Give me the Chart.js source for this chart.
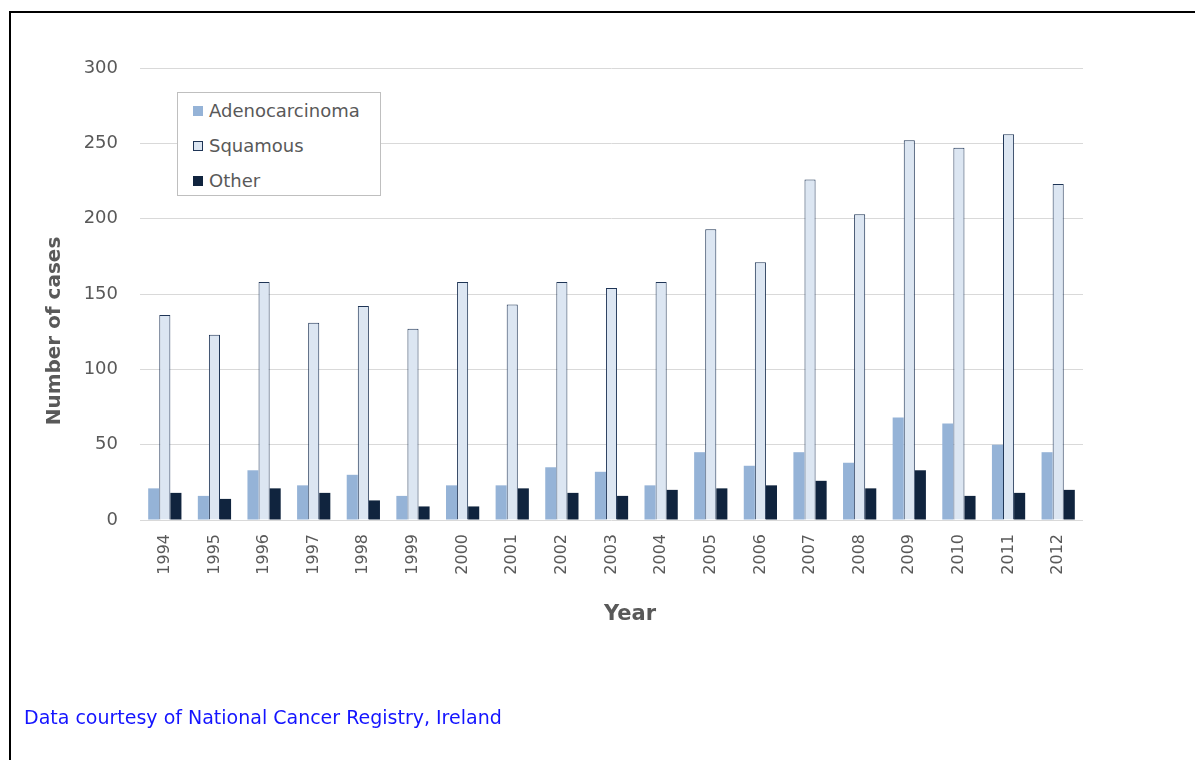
<!DOCTYPE html>
<html>
<head>
<meta charset="utf-8">
<script src="https://cdn.jsdelivr.net/npm/chart.js@4.4.1/dist/chart.umd.min.js"></script>
<style>
  html, body { margin: 0; padding: 0; background: #fff; overflow: hidden; }
  #wrap { position: relative; width: 1195px; height: 760px; }
  #frame { position: absolute; left: 9px; top: 11px; width: 1200px; height: 800px; border: 2px solid #000; box-sizing: border-box; }
  #chart { position: absolute; left: 0; top: 0; }
  #legend {
    position: absolute; left: 177px; top: 92px; width: 204px; height: 104px;
    border: 1px solid #bfbfbf; background: #fff; box-sizing: border-box;
    font-family: Tahoma, 'DejaVu Sans', sans-serif; font-size: 18px; color: #595959;
    padding-top: 0;
  }
  .lg-row { height: 35px; display: flex; align-items: center; padding-left: 15px; }
  .lg-sw { width: 10px; height: 10px; margin-right: 6px; box-sizing: border-box; }
  #source {
    position: absolute; left: 24px; top: 706px;
    font-family: Tahoma, 'DejaVu Sans', sans-serif; font-size: 19px; color: #1414ff;
  }
</style>
</head>
<body>
<div id="wrap">
  <div id="frame"></div>
  <canvas id="chart" width="1195" height="760"></canvas>
  <div id="legend"></div>
  <div id="source">Data courtesy of National Cancer Registry, Ireland</div>
</div>
<script>
// ── Data ──────────────────────────────────────────────────────
const years = ['1994','1995','1996','1997','1998','1999','2000','2001','2002','2003',
               '2004','2005','2006','2007','2008','2009','2010','2011','2012'];
const adenocarcinoma = [21, 16, 33, 23, 30, 16, 23, 23, 35, 32, 23, 45, 36, 45, 38, 68, 64, 50, 45];
const squamous       = [136, 123, 158, 131, 142, 127, 158, 143, 158, 154, 158, 193, 171, 226, 203, 252, 247, 256, 223];
const other          = [18, 14, 21, 18, 13, 9, 9, 21, 18, 16, 20, 21, 23, 26, 21, 33, 16, 18, 20];
const yTicks = [0, 50, 100, 150, 200, 250, 300];

const FONT = "Tahoma, 'DejaVu Sans', sans-serif";
const GREY = '#595959';

const series = [
  { label: 'Adenocarcinoma', data: adenocarcinoma, fill: '#95b3d7', border: '#95b3d7', bw: 0 },
  { label: 'Squamous',       data: squamous,       fill: '#dce6f2', border: '#1f3556', bw: 1 },
  { label: 'Other',          data: other,          fill: '#10243e', border: '#10243e', bw: 0 },
];

// ── Legend (boxed, inside plot) ───────────────────────────────
document.getElementById('legend').innerHTML = series.map(s => `
  <div class="lg-row">
    <span class="lg-sw" style="background:${s.fill};border:${s.bw ? '1px solid ' + s.border : 'none'}"></span>
    <span>${s.label}</span>
  </div>`).join('');

// axis titles drawn by hand: Excel puts them slightly off the plot centre
const axisTitles = {
  id: 'axisTitles',
  afterDraw(chart) {
    const ctx = chart.ctx;
    ctx.save();
    ctx.fillStyle = GREY;
    ctx.textAlign = 'center';
    ctx.textBaseline = 'middle';
    ctx.font = `bold 21px ${FONT}`;
    ctx.fillText('Year', 630, 615);
    ctx.translate(55, 331);
    ctx.rotate(-Math.PI / 2);
    ctx.font = `bold 20px ${FONT}`;
    ctx.fillText('Number of cases', 0, 0);
    ctx.restore();
  }
};

// ── Chart ─────────────────────────────────────────────────────
new Chart(document.getElementById('chart'), {
  type: 'bar',
  data: {
    labels: years,
    datasets: series.map(s => ({
      label: s.label,
      data: s.data,
      backgroundColor: s.fill,
      borderColor: s.border,
      borderWidth: s.bw,
      borderSkipped: 'bottom',
      categoryPercentage: 0.67,
      barPercentage: 1.0,
    })),
  },
  options: {
    responsive: false,
    animation: false,
    layout: { padding: { left: 43, right: 112, top: 68, bottom: 130 } },
    plugins: { legend: { display: false }, tooltip: { enabled: false } },
    scales: {
      x: {
        grid: { display: false },
        border: { display: false },
        ticks: {
          color: GREY, font: { family: FONT, size: 16 },
          maxRotation: 90, minRotation: 90, padding: 6, autoSkip: false,
        },
        afterFit: s => { s.height = 110; },
      },
      y: {
        min: 0, max: 300,
        afterBuildTicks: s => { s.ticks = yTicks.map(v => ({ value: v })); },
        grid: { color: '#d9d9d9', drawTicks: false, lineWidth: 1 },
        border: { display: false },
        ticks: { color: GREY, font: { family: FONT, size: 18 }, padding: 22 },
        afterFit: s => { s.width = 97; },
      },
    },
  },
  plugins: [axisTitles],
});
</script>
</body>
</html>
